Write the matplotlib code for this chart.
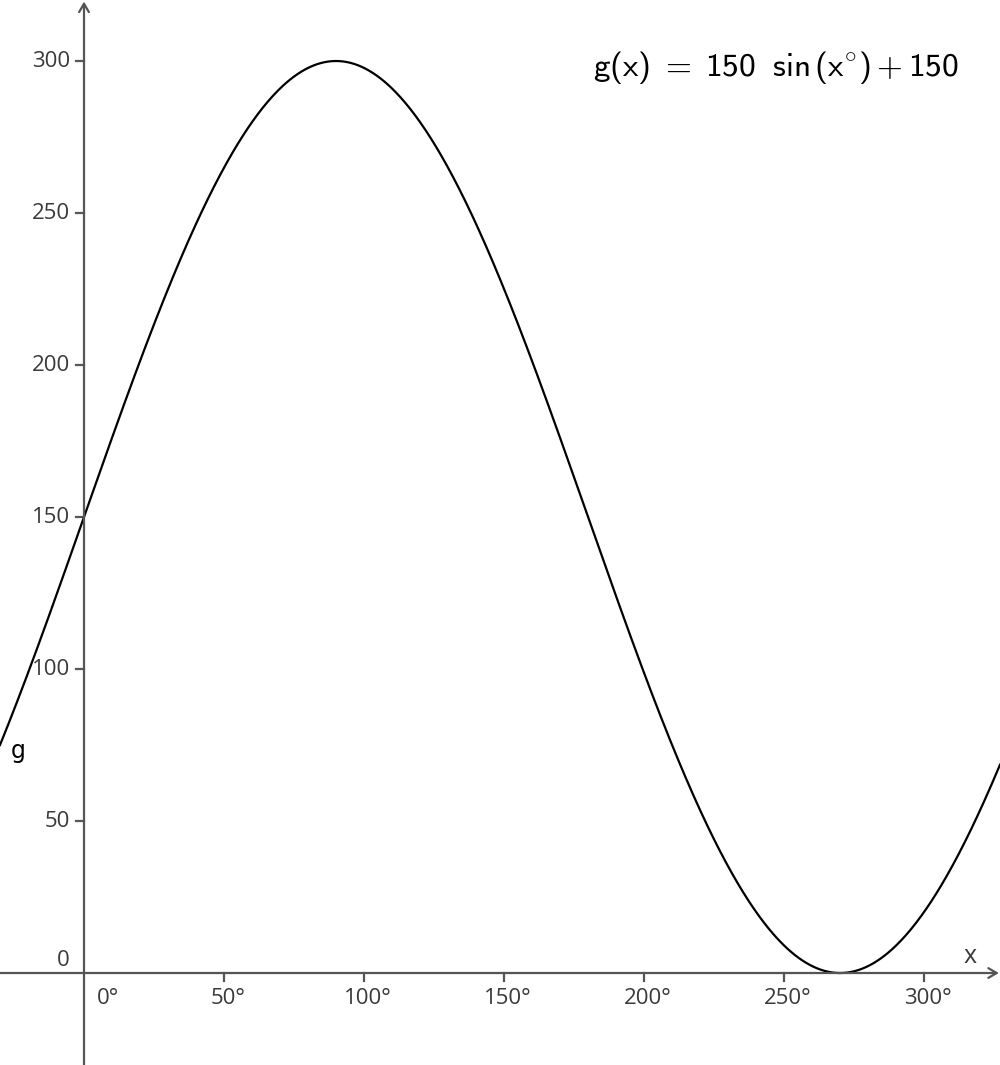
import numpy as np
import matplotlib.pyplot as plt

plt.rcParams['font.family'] = ['Open Sans', 'DejaVu Sans']
plt.rcParams['mathtext.fontset'] = 'custom'
plt.rcParams['mathtext.rm'] = 'cmss10'
plt.rcParams['mathtext.it'] = 'cmss10'
plt.rcParams['mathtext.sf'] = 'cmss10'
plt.rcParams['mathtext.fallback'] = 'cm'

# g(x) = amplitude * sin(x deg) + offset, as printed on the chart
amplitude = 150
offset = 150
x_ticks = [0, 50, 100, 150, 200, 250, 300]
y_ticks = [0, 50, 100, 150, 200, 250, 300]

xmin, xmax = -30.0, 327.1
ymin, ymax = -30.26, 320.07

fig = plt.figure(figsize=(10, 10.65), dpi=100)
ax = fig.add_axes([0, 0, 1, 1])
ax.set_xlim(xmin, xmax)
ax.set_ylim(ymin, ymax)
ax.axis('off')

axis_col = '#555555'
# axes with open arrow heads
ax.annotate('', xy=(xmax - 0.4, 0), xytext=(xmin, 0),
            arrowprops=dict(arrowstyle='->,head_length=0.6,head_width=0.35',
                            color=axis_col, lw=1.6, shrinkA=0, shrinkB=0))
ax.annotate('', xy=(0, ymax - 0.5), xytext=(0, ymin),
            arrowprops=dict(arrowstyle='->,head_length=0.6,head_width=0.35',
                            color=axis_col, lw=1.6, shrinkA=0, shrinkB=0))

# tick marks (in pixels: 8 px long)
px_x = (xmax - xmin) / 1000
px_y = (ymax - ymin) / 1065
for t in x_ticks[1:]:
    ax.plot([t, t], [0, -8 * px_y], color=axis_col, lw=1.6)
for t in y_ticks[1:]:
    ax.plot([-8 * px_x, 0], [t, t], color=axis_col, lw=1.6)

lab_col = '#3a3a3a'
for t in x_ticks:
    xpos = t + (24 * px_x if t == 0 else 4 * px_x)
    ax.text(xpos, -25 * px_y, f'{t}°', ha='center', va='center',
            fontsize=16, color=lab_col)
for t in y_ticks:
    if t == 0:
        ax.text(-14 * px_x, 13 * px_y, '0', ha='right', va='center',
                fontsize=16, color=lab_col)
    else:
        ax.text(-14 * px_x, t, str(t), ha='right', va='center',
                fontsize=16, color=lab_col)

ax.text(xmax - 30 * px_x, 17 * px_y, 'x', ha='center', va='center',
        fontsize=18, color=lab_col)

x = np.linspace(xmin, xmax, 800)
g = amplitude * np.sin(np.radians(x)) + offset
ax.plot(x, g, color='black', lw=1.6)

ax.text(xmin + 18 * px_x, 73, 'g', ha='center', va='center',
        fontsize=17, color='black', family='DejaVu Sans')

ax.text(776 * px_x + xmin, ymax - 68 * px_y,
        r'$\mathrm{g(x)}\ =\ \mathrm{150}\ \ \mathrm{sin}\,(\mathrm{x}^{\circ}) + \mathrm{150}$',
        ha='center', va='center', fontsize=24, color='black')

fig.savefig('out.png', dpi=100)
